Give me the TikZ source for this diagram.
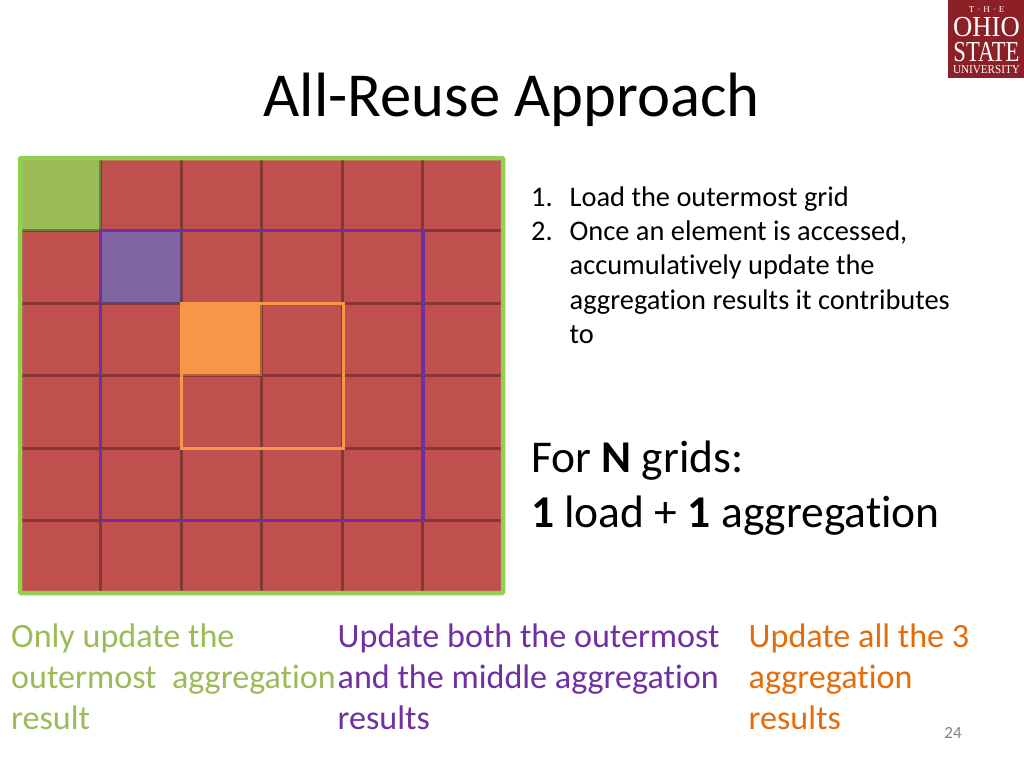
\documentclass[tikz,border=0pt]{standalone}
\usepackage{fontspec}
\setmainfont[Ligatures=NoCommon]{Carlito}
\newfontfamily\logofont{Liberation Serif}
\usepackage{tikz}
\usetikzlibrary{positioning}
\definecolor{gridred}{RGB}{192,80,77}
\definecolor{outergreen}{RGB}{146,208,80}
\definecolor{cellgreen}{RGB}{155,187,89}
\definecolor{cellpurple}{RGB}{128,100,162}
\definecolor{linepurple}{RGB}{112,48,160}
\definecolor{cellorange}{RGB}{247,150,70}
\definecolor{textorange}{RGB}{228,108,10}
\definecolor{logored}{RGB}{140,32,38}
\tikzstyle{caption} = [anchor=north west, inner sep=0pt, font=\fontsize{34.1}{41}\selectfont, align=left]
\tikzstyle{logoline} = [inner sep=0pt, text=white, transform shape, text depth=0pt]
\newcommand{\cellw}{80.55}
\newcommand{\cellh}{72.5}

\begin{document}
\begin{tikzpicture}[x=1pt, y=-1pt]
\useasboundingbox (0,0) rectangle (1024,768);
% Title
\node[font=\fontsize{62.6}{66}\selectfont, inner sep=0pt] (title) at (511.5,100) {All-Reuse Approach};

% Logo
\fill[logored] (948,0) rectangle (1024,78);
\node[logoline, text height=6pt, font=\logofont\fontsize{9}{9}\selectfont] (logothe) at (986.5,10) {T\,\,\textperiodcentered\,\,H\,\,\textperiodcentered\,\,E};
\node[logoline, text height=19pt, xscale=0.92, font=\logofont\fontsize{29}{29}\selectfont] (logoohio) at (986.5,27) {OHIO};
\node[logoline, text height=19pt, xscale=0.78, font=\logofont\fontsize{29}{29}\selectfont] (logostate) at (986.5,52) {STATE};
\node[logoline, text height=8pt, xscale=0.93, font=\logofont\fontsize{12}{12}\selectfont] (logouni) at (986.5,70) {UNIVERSITY};

% Grid
\fill[gridred] (20,158) rectangle (503,593);
\fill[cellgreen] (20,158) rectangle ++(\cellw,\cellh);
\fill[cellpurple] (100.5,230.5) rectangle ++(\cellw,\cellh);
\fill[cellorange] (181,303) rectangle ++(\cellw,\cellh);
\draw[black, draw opacity=0.3, line width=3pt]
  \foreach \i in {1,...,5} {
    ({20+\i*\cellw},158) -- ({20+\i*\cellw},593)
    (20,{158+\i*\cellh}) -- (503,{158+\i*\cellh})
  };

% Aggregation boxes
\draw[cellorange, line width=3pt] (181,303) rectangle (343,448);
\draw[linepurple, line width=3pt] (100.5,230.5) rectangle (423.5,520.5);
\draw[outergreen, line width=4.5pt, rounded corners=1pt] (20,158) rectangle (503,593);

% Steps
\node[anchor=north west, inner sep=0pt, font=\fontsize{28.4}{34.3}\selectfont] (steps) at (531,182) {%
\begin{tabular}{@{}p{38.5pt}@{}l@{}}
1. & Load the outermost grid\\
2. & Once an element is accessed,\\
   & accumulatively update the\\
   & aggregation results it contributes\\
   & to
\end{tabular}};

% Cost
\node[anchor=north west, inner sep=0pt, font=\fontsize{45.5}{55.5}\selectfont, align=left] (cost) at (531,440.5) {For \textbf{N} grids:\\\textbf{1} load + \textbf{1} aggregation};

% Captions
\node[caption, text=cellgreen] (capgreen) at (11,624) {Only update the\\outermost\ \ aggregation\\result};
\node[caption, text=linepurple] (cappurple) at (337.5,624) {Update both the outermost\\and the middle aggregation\\results};
\node[caption, text=textorange] (caporange) at (748.5,624) {Update all the 3\\aggregation\\results};

% Page number
\node[font=\fontsize{17}{17}\selectfont, text=black!50, inner sep=0pt] (page) at (953,733) {24};
\end{tikzpicture}
\end{document}
